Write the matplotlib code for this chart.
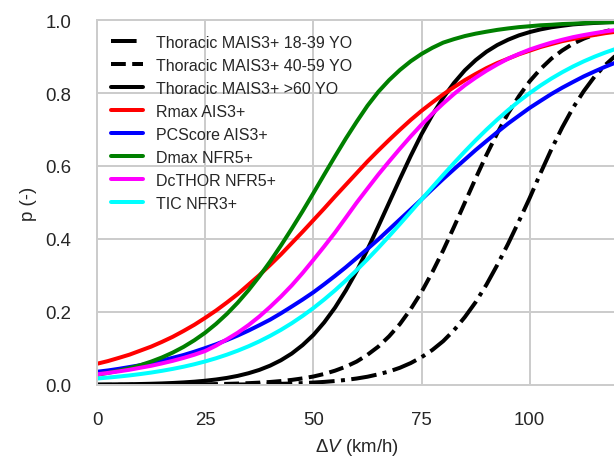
import matplotlib
matplotlib.use("Agg")
import matplotlib.pyplot as plt
import seaborn as sns

# delta-V sample positions (km/h) and probabilities
DV = [0, 2.5, 5, 7.5, 10, 12.5, 15, 17.5, 20, 22.5, 25, 27.5, 30, 32.5, 35, 37.5,
      40, 42.5, 45, 47.5, 50, 52.5, 55, 57.5, 60, 62.5, 65, 67.5, 70, 72.5, 75, 77.5,
      80, 82.5, 85, 87.5, 90, 92.5, 95, 97.5, 100, 102.5, 105, 107.5, 110, 112.5,
      115, 117.5, 120]

THOR_18_39 = [0.00004, 0.00005, 0.000065, 0.00008, 0.00011, 0.00014, 0.00018, 0.00023,
              0.0003, 0.00039, 0.0005, 0.00065, 0.00083, 0.00108, 0.0014, 0.00179,
              0.0023, 0.00297, 0.0038, 0.00494, 0.0064, 0.0082, 0.0106, 0.0136,
              0.0175, 0.0224, 0.029, 0.0368, 0.047, 0.0599, 0.076, 0.0959,
              0.120, 0.150, 0.186, 0.227, 0.275, 0.329, 0.387, 0.449,
              0.513, 0.581, 0.646, 0.706, 0.760, 0.806, 0.846, 0.878, 0.905]
THOR_40_59 = [0.0001, 0.00015, 0.0002, 0.00025, 0.0003, 0.00043, 0.0006, 0.00073,
              0.0010, 0.00124, 0.0016, 0.00212, 0.0028, 0.00362, 0.0047, 0.00616,
              0.0080, 0.0105, 0.0137, 0.0178, 0.023, 0.0300, 0.039, 0.0500,
              0.064, 0.0826, 0.105, 0.1333, 0.167, 0.2080, 0.255, 0.3095,
              0.369, 0.4335, 0.5, 0.5665, 0.631, 0.6905, 0.745, 0.792,
              0.833, 0.8667, 0.895, 0.9174, 0.936, 0.950, 0.961, 0.970, 0.977]
THOR_60 = [0.0008, 0.00108, 0.0014, 0.00183, 0.0024, 0.00309, 0.0040, 0.00522,
           0.0068, 0.00879, 0.0114, 0.0148, 0.0191, 0.0247, 0.0320, 0.0411,
           0.0528, 0.0676, 0.0860, 0.1091, 0.137, 0.1715, 0.212, 0.2592,
           0.312, 0.3717, 0.435, 0.5, 0.565, 0.6283, 0.688, 0.7408,
           0.788, 0.8285, 0.863, 0.8909, 0.914, 0.9324, 0.947, 0.9589,
           0.968, 0.9753, 0.981, 0.9852, 0.989, 0.9912, 0.993, 0.9948, 0.996]
RMAX = [0.058, 0.0653, 0.074, 0.083, 0.094, 0.105, 0.118, 0.132,
        0.148, 0.165, 0.184, 0.204, 0.226, 0.249, 0.275, 0.301,
        0.329, 0.358, 0.389, 0.420, 0.452, 0.484, 0.517, 0.549,
        0.581, 0.613, 0.643, 0.672, 0.700, 0.727, 0.752, 0.775,
        0.797, 0.817, 0.836, 0.853, 0.869, 0.883, 0.895, 0.907,
        0.917, 0.927, 0.935, 0.943, 0.949, 0.955, 0.960, 0.965, 0.969]
PCSCORE = [0.036, 0.0396, 0.044, 0.049, 0.054, 0.0604, 0.067, 0.0743,
           0.082, 0.0911, 0.101, 0.1114, 0.123, 0.1354, 0.149, 0.1637,
           0.179, 0.1964, 0.215, 0.234, 0.254, 0.2761, 0.299, 0.3228,
           0.348, 0.3731, 0.399, 0.4265, 0.454, 0.4815, 0.509, 0.5372,
           0.565, 0.5917, 0.618, 0.6443, 0.669, 0.6934, 0.717, 0.7386,
           0.760, 0.7792, 0.798, 0.8152, 0.831, 0.8464, 0.860, 0.8731, 0.885]
DMAX = [0.0279, 0.0329, 0.0389, 0.0459, 0.0542, 0.0639, 0.0753, 0.0887,
        0.1043, 0.1225, 0.1433, 0.1674, 0.1947, 0.2254, 0.2597, 0.2975,
        0.3385, 0.3824, 0.4286, 0.4764, 0.5262, 0.5769, 0.627, 0.6759,
        0.722, 0.7659, 0.804, 0.8362, 0.864, 0.888, 0.908, 0.9248,
        0.939, 0.9486, 0.957, 0.9636, 0.969, 0.974, 0.978, 0.9815,
        0.984, 0.9866, 0.988, 0.990, 0.991, 0.9926, 0.994, 0.9945, 0.995]
DCTHOR = [0.029, 0.0328, 0.037, 0.0415, 0.047, 0.0524, 0.059, 0.066,
          0.074, 0.0828, 0.093, 0.1077, 0.125, 0.1431, 0.164, 0.1876,
          0.214, 0.2423, 0.273, 0.3068, 0.343, 0.3799, 0.418, 0.4588,
          0.500, 0.5387, 0.577, 0.613, 0.648, 0.6819, 0.714, 0.7441,
          0.772, 0.7982, 0.822, 0.8429, 0.862, 0.8792, 0.895, 0.908,
          0.920, 0.9299, 0.939, 0.9468, 0.954, 0.9598, 0.965, 0.9698, 0.974]
TIC = [0.0175, 0.0200, 0.0228, 0.0260, 0.0297, 0.0338, 0.0386, 0.0439,
       0.0499, 0.0567, 0.0644, 0.0731, 0.0829, 0.0938, 0.1059, 0.1194,
       0.1345, 0.1510, 0.1692, 0.1892, 0.2108, 0.2343, 0.2594, 0.2863,
       0.3148, 0.3447, 0.3759, 0.4082, 0.4413, 0.4749, 0.5087, 0.5425,
       0.5759, 0.6086, 0.6404, 0.6710, 0.7002, 0.7278, 0.7538, 0.7781,
       0.8006, 0.8214, 0.8404, 0.8577, 0.8735, 0.8877, 0.9005, 0.9120, 0.9223]

SERIES = [
    ("Thoracic MAIS3+ 18-39 YO", THOR_18_39, "#000000", "-."),
    ("Thoracic MAIS3+ 40-59 YO", THOR_40_59, "#000000", "--"),
    ("Thoracic MAIS3+ >60 YO", THOR_60, "#000000", "-"),
    ("Rmax AIS3+", RMAX, "#ff0000", "-"),
    ("PCScore AIS3+", PCSCORE, "#0000ff", "-"),
    ("Dmax NFR5+", DMAX, "#008000", "-"),
    ("DcTHOR NFR5+", DCTHOR, "#ff00ff", "-"),
    ("TIC NFR3+", TIC, "#00ffff", "-"),
]

sns.set_style("whitegrid")
plt.rcParams["font.family"] = ["Liberation Sans", "DejaVu Sans"]
plt.rcParams["mathtext.fontset"] = "custom"
plt.rcParams["mathtext.rm"] = "Liberation Sans"
plt.rcParams["mathtext.it"] = "Liberation Sans:italic"

fig = plt.figure(figsize=(6.4, 4.8), dpi=96)
ax = fig.add_axes([0.158, 0.163, 0.845, 0.791])

for label, vals, color, ls in SERIES:
    ax.plot(DV, vals, color=color, linestyle=ls, linewidth=3, label=label)

ax.set_xlim(0, 120)
ax.set_ylim(0, 1)
ax.set_xticks([0, 25, 50, 75, 100])
ax.set_yticks([0.0, 0.2, 0.4, 0.6, 0.8, 1.0])
ax.tick_params(axis="both", length=0, pad=19.5, labelsize=14, labelcolor=".15")
ax.grid(True, color=".8", linewidth=1.5)
for sp in ax.spines.values():
    sp.set_color(".8")
    sp.set_linewidth(1.5)

ax.set_xlabel(r"$\Delta V$ (km/h)", fontsize=14, color=".15", labelpad=6)
ax.set_ylabel("p (-)", fontsize=14, color=".15", labelpad=6)

ax.legend(loc="upper left", frameon=False, fontsize=12, labelcolor=".15")

fig.savefig("out.png", dpi=96)
